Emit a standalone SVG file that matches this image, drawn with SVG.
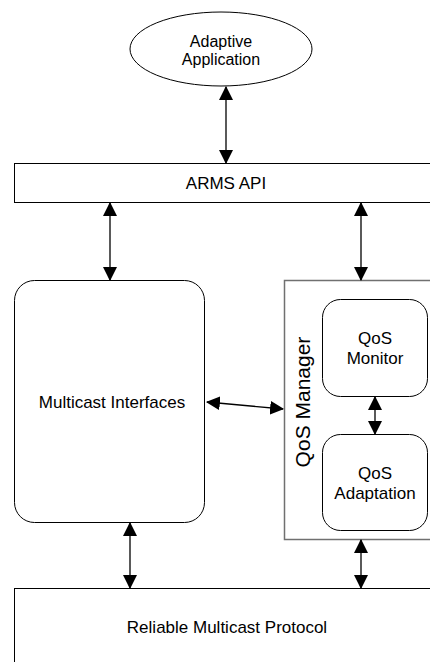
<svg xmlns="http://www.w3.org/2000/svg" width="430" height="662" viewBox="0 0 430 662">
<style>
text{font-family:"Liberation Sans",Arial,sans-serif;font-size:17px;fill:#000;text-anchor:middle}
.box{fill:#fff;stroke:#000;stroke-width:1}
.mgr{fill:#fff;stroke:#707070;stroke-width:1.5}
.con{stroke:#000;stroke-width:1.3;fill:none}
</style>
<defs>
<marker id="ah" markerUnits="userSpaceOnUse" markerWidth="14" markerHeight="14" refX="12" refY="6.5" orient="auto-start-reverse" viewBox="0 0 13 13">
<path d="M0,0 L13,6.5 L0,13 Z" fill="#000"/>
</marker>
</defs>
<rect width="430" height="662" fill="#fff"/>
<g id="app">
<ellipse class="box" cx="221" cy="49" rx="91" ry="37"/>
<text x="221" y="47" style="font-size:16px">Adaptive</text>
<text x="221" y="65" style="font-size:16px">Application</text>
</g>
<g id="api">
<rect class="box" x="14.5" y="163.5" width="430" height="39"/>
<text x="226" y="189">ARMS API</text>
</g>
<g id="mci">
<rect class="box" x="14.5" y="280.5" width="190" height="242" rx="20"/>
<text x="112" y="408">Multicast Interfaces</text>
</g>
<g id="qosmgr">
<rect class="mgr" x="284.5" y="280.5" width="160" height="259"/>
<text transform="translate(310,402) rotate(-90)" style="font-size:21px">QoS Manager</text>
</g>
<g id="monitor">
<rect class="box" x="322.5" y="299.5" width="105" height="97" rx="18"/>
<text x="375" y="344">QoS</text>
<text x="375" y="364">Monitor</text>
</g>
<g id="adapt">
<rect class="box" x="322.5" y="434.5" width="105" height="96" rx="18"/>
<text x="375" y="479">QoS</text>
<text x="375" y="499">Adaptation</text>
</g>
<g id="rmp">
<rect class="box" x="14.5" y="588.5" width="430" height="100"/>
<text x="227" y="633">Reliable Multicast Protocol</text>
</g>
<g id="connectors">
<line class="con" x1="226" y1="87" x2="226" y2="163" marker-start="url(#ah)" marker-end="url(#ah)"/>
<line class="con" x1="110" y1="203" x2="110" y2="280" marker-start="url(#ah)" marker-end="url(#ah)"/>
<line class="con" x1="361" y1="203" x2="361" y2="280" marker-start="url(#ah)" marker-end="url(#ah)"/>
<line class="con" x1="207" y1="402" x2="283" y2="409" marker-start="url(#ah)" marker-end="url(#ah)"/>
<line class="con" x1="375" y1="397" x2="375" y2="434" marker-start="url(#ah)" marker-end="url(#ah)"/>
<line class="con" x1="130" y1="523" x2="130" y2="588" marker-start="url(#ah)" marker-end="url(#ah)"/>
<line class="con" x1="361" y1="540" x2="361" y2="588" marker-start="url(#ah)" marker-end="url(#ah)"/>
</g>
</svg>
